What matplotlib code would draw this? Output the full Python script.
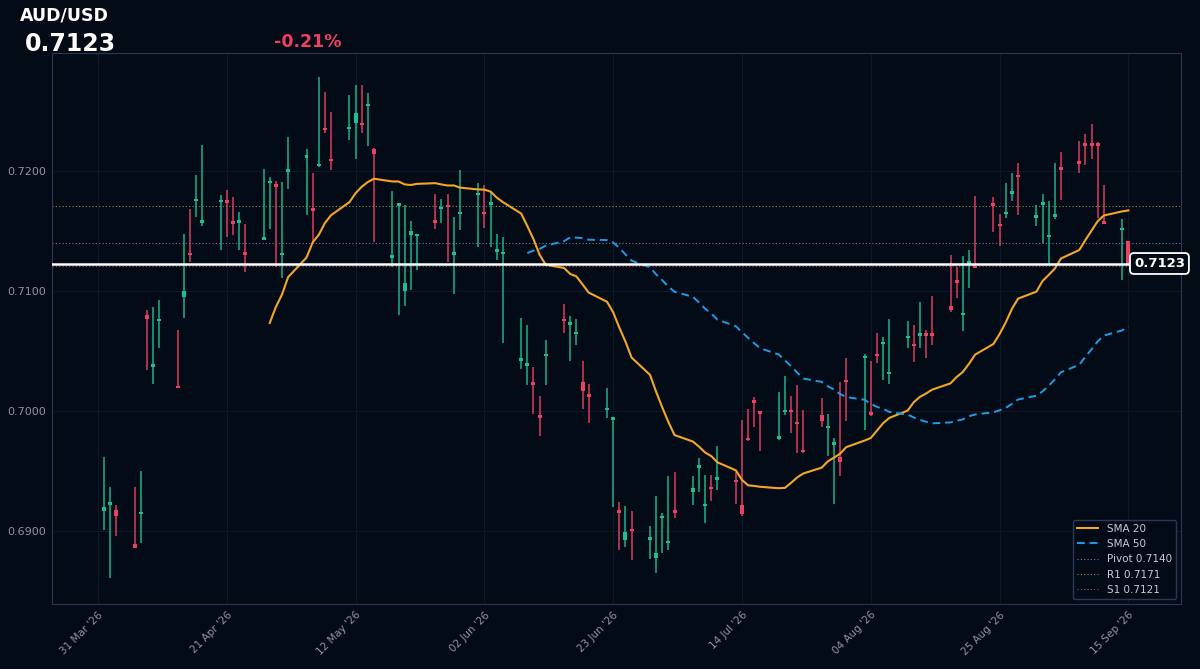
import matplotlib
matplotlib.use("Agg")
import matplotlib.pyplot as plt
import matplotlib.dates as mdates
import pandas as pd
import numpy as np

# daily AUD/USD candles, business days 1 Apr - 15 Sep 2026
opens = [.6917,.6922,.6918,.6889,.6914,.7080,.7037,.7075,.7021,.7095,
         .7132,.7175,.7157,.7174,.7176,.7158,.7157,.7133,.7143,.7190,
         .7189,.7130,.7199,.7211,.7169,.7204,.7236,.7210,.7235,.7240,
         .7240,.7254,.7218,.7128,.7171,.7100,.7147,.7146,.7159,.7168,
         .7172,.7130,.7164,.7180,.7166,.7172,.7133,.7131,.7042,.7038,
         .7024,.6997,.7046,.7077,.7072,.7064,.7024,.7014,.7001,.6993,
         .6918,.6893,.6902,.6893,.6878,.6911,.6890,.6918,.6933,.6953,
         .6921,.6937,.6943,.6943,.6922,.6978,.7009,.7000,.6977,.6999,
         .7001,.6991,.6968,.6997,.6986,.6972,.6962,.7026,.7044,.6999,
         .7048,.7056,.7031,.7061,.7056,.7063,.7065,.7065,.7088,.7109,
         .7080,.7123,.7121,.7173,.7156,.7164,.7181,.7197,.7161,.7172,
         .7145,.7162,.7203,.7208,.7223,.7223,.7223,.7158,.7151,.7142]
highs = [.6962,.6937,.6922,.6937,.6950,.7084,.7087,.7093,.7068,.7148,
         .7168,.7197,.7222,.7180,.7184,.7178,.7166,.7156,.7202,.7195,
         .7192,.7191,.7228,.7218,.7198,.7278,.7266,.7249,.7263,.7272,
         .7272,.7265,.7219,.7183,.7173,.7172,.7158,.7148,.7181,.7177,
         .7181,.7162,.7201,.7190,.7188,.7183,.7148,.7145,.7078,.7072,
         .7037,.7013,.7059,.7089,.7079,.7077,.7042,.7023,.7019,.6995,
         .6924,.6921,.6917,.6904,.6929,.6915,.6946,.6949,.6946,.6961,
         .6947,.6947,.6971,.6949,.6993,.7002,.7012,.7000,.7016,.7029,
         .7013,.7022,.7001,.7011,.6998,.6978,.7024,.7044,.7048,.7042,
         .7065,.7062,.7077,.7075,.7072,.7091,.7068,.7096,.7130,.7120,
         .7129,.7134,.7179,.7178,.7164,.7190,.7198,.7207,.7172,.7181,
         .7175,.7207,.7216,.7225,.7231,.7239,.7224,.7188,.7160,.7142]
lows = [.6901,.6861,.6896,.6886,.6890,.7034,.7023,.7053,.7019,.7078,
        .7124,.7162,.7154,.7134,.7145,.7147,.7134,.7116,.7143,.7152,
        .7120,.7111,.7185,.7163,.7140,.7203,.7232,.7201,.7226,.7210,
        .7232,.7221,.7141,.7120,.7080,.7088,.7101,.7118,.7152,.7157,
        .7124,.7098,.7151,.7137,.7153,.7137,.7126,.7057,.7035,.7022,
        .6998,.6979,.7022,.7065,.7042,.7055,.7002,.6990,.6994,.6920,
        .6884,.6887,.6876,.6877,.6865,.6882,.6884,.6911,.6922,.6933,
        .6907,.6925,.6934,.6923,.6913,.6975,.6987,.6967,.6976,.6997,
        .6982,.6965,.6965,.6987,.6963,.6923,.6946,.6992,.6984,.6996,
        .7040,.7026,.7023,.7053,.7041,.7053,.7044,.7055,.7083,.7094,
        .7067,.7103,.7119,.7149,.7138,.7161,.7175,.7163,.7154,.7140,
        .7123,.7160,.7176,.7198,.7205,.7210,.7161,.7156,.7109,.7123]
closes = [.6920,.6924,.6913,.6886,.6916,.7077,.7039,.7077,.7019,.7100,
          .7130,.7177,.7159,.7176,.7173,.7156,.7159,.7130,.7145,.7192,
          .7187,.7132,.7202,.7213,.7167,.7206,.7234,.7208,.7237,.7248,
          .7238,.7256,.7214,.7130,.7173,.7107,.7150,.7148,.7157,.7170,
          .7170,.7133,.7166,.7182,.7164,.7174,.7135,.7133,.7044,.7040,
          .7022,.6994,.7048,.7075,.7074,.7066,.7017,.7012,.7003,.6995,
          .6915,.6899,.6900,.6895,.6882,.6913,.6892,.6915,.6936,.6955,
          .6923,.6935,.6945,.6941,.6914,.6976,.7007,.6998,.6979,.7001,
          .6999,.6989,.6966,.6992,.6988,.6974,.6958,.7024,.7046,.6997,
          .7046,.7058,.7033,.7063,.7054,.7065,.7063,.7063,.7084,.7107,
          .7082,.7125,.7119,.7171,.7154,.7166,.7183,.7195,.7163,.7174,
          .7147,.7164,.7201,.7206,.7221,.7221,.7221,.7156,.7153,.7123]
dates = pd.bdate_range("2026-04-01", "2026-09-15")

pivot, r1, s1 = 0.7140, 0.7171, 0.7121
last_price = 0.7123
change_pct = "-0.21%"

BG = "#030b17"
UP = "#1fbf94"
DOWN = "#ef3f62"

df = pd.DataFrame({"o": opens, "h": highs, "l": lows, "c": closes}, index=dates)
sma20 = df["c"].rolling(20).mean()
sma50 = df["c"].rolling(50).mean()

fig = plt.figure(figsize=(12, 6.69), dpi=100, facecolor=BG)
ax = fig.add_axes([0.0433, 0.097, 0.941, 0.8236], facecolor=BG)

x = mdates.date2num(dates)
for xi, o, h, l, c in zip(x, df["o"], df["h"], df["l"], df["c"]):
    col = UP if c >= o else DOWN
    ax.vlines(xi, l, h, color=col, lw=1.2, alpha=0.85, zorder=3)
    bot = min(o, c)
    ht = max(abs(c - o), 0.00006)
    ax.bar(xi, ht, bottom=bot, width=0.65, color=col, zorder=4)

ax.plot(x, sma20, color="#f5a623", lw=1.5, label="SMA 20", zorder=5)
ax.plot(x, sma50, color="#1e9be8", lw=1.4, ls=(0, (4, 2.5)), label="SMA 50", zorder=5)
ax.axhline(pivot, color="#6f7f99", lw=0.8, ls=(0, (1, 2)), label=f"Pivot {pivot:.4f}")
ax.axhline(r1, color="#8f8a55", lw=0.8, ls=(0, (1, 2)), label=f"R1 {r1:.4f}")
ax.axhline(s1, color="#8f5a5a", lw=0.8, ls=(0, (1, 2)), label=f"S1 {s1:.4f}")
ax.axhline(last_price, color="white", lw=1.8, zorder=6)

ax.annotate(f"{last_price:.4f}", xy=(1.0, last_price), xycoords=("axes fraction", "data"),
            xytext=(-34, 0), textcoords="offset points", ha="left", va="center",
            color="white", fontsize=9.5, fontweight="bold", zorder=10, annotation_clip=False,
            bbox=dict(boxstyle="round,pad=0.3", fc=BG, ec="white", lw=1.3))

first = mdates.date2num(pd.Timestamp("2026-04-01"))
last = mdates.date2num(pd.Timestamp("2026-09-15"))
ax.set_xlim(first - 8.5, last + 8.6)
ax.set_ylim(0.68392, 0.72983)
ticks = pd.date_range("2026-03-31", periods=9, freq="21D")
ax.set_xticks(mdates.date2num(ticks))
ax.set_xticklabels([t.strftime("%d %b '%y") for t in ticks], rotation=45, ha="right",
                   rotation_mode="anchor", color="#8b97aa", fontsize=7.5)
ax.set_yticks([0.69, 0.70, 0.71, 0.72])
ax.set_yticklabels([f"{v:.4f}" for v in [0.69, 0.70, 0.71, 0.72]], color="#8b97aa", fontsize=8)
ax.tick_params(length=0, pad=4)
ax.grid(True, color="#0d1828", lw=0.8)
for s in ax.spines.values():
    s.set_color("#2a3a55")

leg = ax.legend(loc="lower right", fontsize=7.5, facecolor=BG, edgecolor="#2a3a55",
                labelcolor="#c5ccd8", framealpha=1)

fig.text(20 / 1200, 1 - 15 / 669, "AUD/USD", color="white", fontsize=12.5,
         fontweight="bold", va="center")
fig.text(25 / 1200, 1 - 44 / 669, f"{last_price:.4f}", color="white", fontsize=17,
         fontweight="bold", va="center")
fig.text(274 / 1200, 1 - 42 / 669, change_pct, color=DOWN, fontsize=12.5,
         fontweight="bold", va="center")

fig.savefig("out.png", dpi=100, facecolor=BG)
